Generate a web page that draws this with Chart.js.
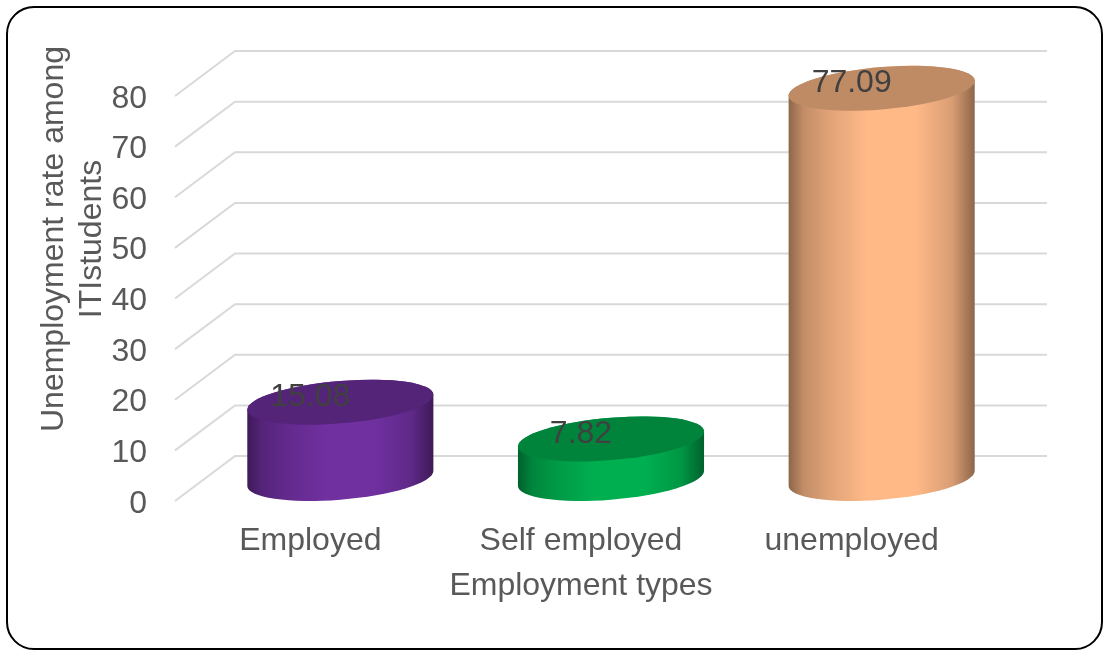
<!DOCTYPE html>
<html>
<head>
<meta charset="utf-8">
<title>Employment types</title>
<script src="https://cdn.jsdelivr.net/npm/chart.js@4"></script>
<style>
  html, body { margin: 0; background: #fff; }
  #wrap { position: relative; width: 1106px; height: 651px; overflow: hidden; }
  #frame {
    position: absolute; left: 6px; top: 6px; width: 1093px; height: 640px;
    border: 2px solid #000; border-radius: 28px;
  }
  #chart { position: absolute; left: 0; top: 0; }
</style>
</head>
<body>
<div id="wrap">
  <div id="frame"></div>
  <canvas id="chart" width="1106" height="651"></canvas>
</div>
<script>
const categories = ['Employed', 'Self employed', 'unemployed'];
const values = [15.08, 7.82, 77.09];
const barColors = [[112, 48, 160], [0, 176, 80], [255, 185, 135]];
const yTitleLines = ['Unemployment rate among', 'ITIstudents'];
const xTitle = 'Employment types';

const FONT = '"Liberation Sans", Arial, sans-serif';
const DEPTH_X = 60;   // how far the back wall sits right of the front plane
const DEPTH_Y = 45;   // and how far above it
const SHEAR = -7.5;   // tilt of the cylinder ellipses

function shade(c, f) {
    return `rgb(${Math.round(c[0] * f)}, ${Math.round(c[1] * f)}, ${Math.round(c[2] * f)})`;
}

// Back wall and the diagonal side lines
const wallPlugin = {
    id: 'wall',
    beforeDatasetsDraw(chart) {
        const { ctx, chartArea, scales } = chart;
        ctx.save();
        ctx.strokeStyle = '#D9D9D9';
        ctx.lineWidth = 2;
        scales.y.ticks.forEach(tick => {
            const y = scales.y.getPixelForValue(tick.value);
            ctx.beginPath();
            ctx.moveTo(chartArea.left, y);
            ctx.lineTo(chartArea.left + DEPTH_X, y - DEPTH_Y);
            ctx.lineTo(chartArea.right + DEPTH_X, y - DEPTH_Y);
            ctx.stroke();
        });
        ctx.restore();
    }
};

// Bars are drawn as cylinders, sized from the bar elements
const cylinderPlugin = {
    id: 'cylinders',
    afterDatasetsDraw(chart) {
        const { ctx } = chart;
        chart.getDatasetMeta(0).data.forEach((bar, i) => {
            const color = barColors[i];
            const a = bar.width / 2;
            const b = Math.sqrt((DEPTH_Y / 2) ** 2 - SHEAR ** 2);
            const cx = bar.x + DEPTH_X / 2;
            const topY = bar.y - DEPTH_Y / 2;
            const h = bar.base - bar.y;

            ctx.save();
            ctx.transform(1, SHEAR / a, 0, 1, cx, topY);

            const grad = ctx.createLinearGradient(-a, 0, a, 0);
            grad.addColorStop(0, shade(color, 0.55));
            grad.addColorStop(0.08, shade(color, 0.76));
            grad.addColorStop(0.22, shade(color, 0.88));
            grad.addColorStop(0.42, shade(color, 1));
            grad.addColorStop(0.68, shade(color, 1));
            grad.addColorStop(0.88, shade(color, 0.85));
            grad.addColorStop(1, shade(color, 0.55));

            ctx.beginPath();
            ctx.moveTo(a, 0);
            ctx.lineTo(a, h);
            ctx.ellipse(0, h, a, b, 0, 0, Math.PI);
            ctx.lineTo(-a, 0);
            ctx.ellipse(0, 0, a, b, 0, Math.PI, 0);
            ctx.closePath();
            ctx.fillStyle = grad;
            ctx.fill();

            ctx.beginPath();
            ctx.ellipse(0, 0, a, b, 0, 0, Math.PI * 2);
            ctx.fillStyle = shade(color, 0.75);
            ctx.fill();
            ctx.restore();
        });
    },
    afterDraw(chart) {
        const { ctx, chartArea, scales } = chart;
        ctx.save();
        ctx.font = `32px ${FONT}`;

        // value labels
        ctx.fillStyle = '#404040';
        ctx.textAlign = 'center';
        ctx.textBaseline = 'middle';
        chart.getDatasetMeta(0).data.forEach((bar, i) => {
            ctx.fillText(values[i].toFixed(2), bar.x, bar.y - 27.5);
        });

        // y tick labels, set on the baseline so the digits centre on the tick
        ctx.fillStyle = '#595959';
        ctx.textAlign = 'right';
        ctx.textBaseline = 'alphabetic';
        scales.y.ticks.forEach(tick => {
            ctx.fillText(tick.label, chartArea.left - 28, scales.y.getPixelForValue(tick.value) + 11.5);
        });

        // two-line axis title, sits higher than the middle of the plot
        ctx.textAlign = 'center';
        ctx.translate(63, 239);
        ctx.rotate(-Math.PI / 2);
        yTitleLines.forEach((line, i) => {
            ctx.fillText(line, 0, i * 38);
        });
        ctx.restore();
    }
};

new Chart(document.getElementById('chart'), {
    type: 'bar',
    data: {
        labels: categories,
        datasets: [{
            data: values,
            backgroundColor: 'transparent',
            borderWidth: 0,
            barPercentage: 0.6875,
            categoryPercentage: 1
        }]
    },
    options: {
        responsive: false,
        animation: false,
        layout: { padding: { left: 0, right: 119, top: 96, bottom: 0 } },
        plugins: { legend: { display: false }, tooltip: { enabled: false } },
        scales: {
            x: {
                grid: { display: false, drawTicks: false },
                border: { display: false },
                ticks: { color: '#595959', font: { family: FONT, size: 32 }, padding: 21 },
                title: {
                    display: true,
                    text: xTitle,
                    color: '#595959',
                    font: { family: FONT, size: 32 },
                    padding: { top: 0, bottom: 46 }
                },
                afterFit(scale) { scale.height = 150; }
            },
            y: {
                min: 0,
                max: 80,
                grid: { display: false, drawTicks: false },
                border: { display: false },
                ticks: { stepSize: 10, display: false },
                afterFit(scale) { scale.width = 175; }
            }
        }
    },
    plugins: [wallPlugin, cylinderPlugin]
});
</script>
</body>
</html>
